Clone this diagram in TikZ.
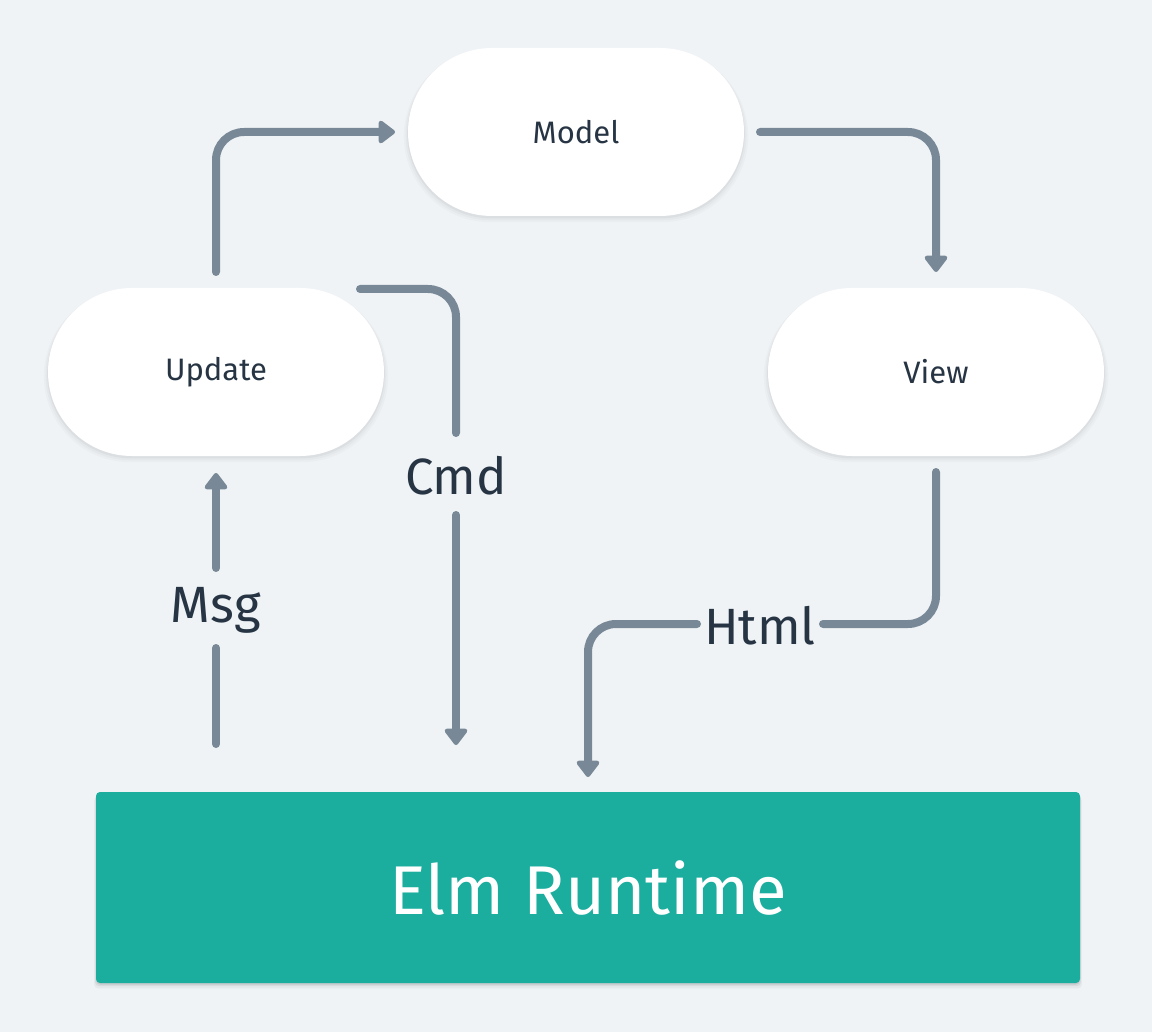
\documentclass[tikz,border=0pt]{standalone}
\usepackage{fontspec}
\setmainfont{Fira Sans}
\usetikzlibrary{arrows.meta,shadows,shapes.misc}
\definecolor{bg}{HTML}{EFF3F6}
\definecolor{arr}{HTML}{788896}
\definecolor{txt}{HTML}{263443}
\definecolor{teal}{HTML}{1BAE9F}
\tikzset{
  soft/.style={
    drop shadow={shadow xshift=0pt, shadow yshift=-4pt, shadow scale=1.025, opacity=0.018, fill=black},
    drop shadow={shadow xshift=0pt, shadow yshift=-3pt, shadow scale=1.015, opacity=0.025, fill=black},
    drop shadow={shadow xshift=0pt, shadow yshift=-2pt, shadow scale=1.005, opacity=0.035, fill=black}},
  softrt/.style={
    drop shadow={shadow xshift=0pt, shadow yshift=-5pt, shadow scale=1.004, opacity=0.04, fill=black},
    drop shadow={shadow xshift=0pt, shadow yshift=-3pt, shadow scale=1.002, opacity=0.06, fill=black},
    drop shadow={shadow xshift=0pt, shadow yshift=-1.5pt, shadow scale=1.0, opacity=0.08, fill=black}},
  pill/.style={rounded rectangle, fill=white, minimum width=336pt, minimum height=168pt, inner sep=0pt,
    text=txt, font=\fontsize{31}{33}\selectfont, soft},
  conn/.style={draw=arr, line width=8pt, line cap=round, rounded corners=28pt},
  tip/.style={-{Triangle[length=18pt,width=26pt,round]}},
  lbl/.style={text=txt, font=\fontsize{51}{53}\selectfont, inner sep=0pt},
}
\begin{document}
\begin{tikzpicture}[x=1pt,y=-1pt]
\fill[bg] (0,0) rectangle (1152,1032);
\useasboundingbox (0,0) rectangle (1152,1032);

\node[pill] (model) at (576,132) {Model};
\node[pill] (update) at (216,372) {Update};
\node[pill] (view) at (936,372) {View};

\node[fill=teal, rounded corners=4pt, minimum width=984pt, minimum height=191pt, inner sep=0pt,
  text=white, font=\fontsize{69}{71}\selectfont, softrt] (rt) at (588,887.5) {Elm Runtime};

\node[lbl] (cmd) at (456,476) {Cmd};
\node[lbl] (msg) at (216,610) {Msg};
\node[lbl] (html) at (760,626) {Html};

\coordinate (a1s) at (216,272);
\coordinate (a1e) at (386,132);
\draw[conn] (a1s) -- (a1s |- a1e) -- (a1e);
\draw[arr, line width=8pt, tip] ([xshift=-2pt]a1e) -- (395,132);

\coordinate (a2s) at (760,132);
\coordinate (a2e) at (936,262);
\draw[conn] (a2s) -- (a2s -| a2e) -- (a2e);
\draw[arr, line width=8pt, tip] ([yshift=-2pt]a2e) -- (936,272);

\coordinate (a3s) at (360,289);
\coordinate (a3m) at (456,433);
\draw[conn] (a3s) -- (a3s -| a3m) -- (a3m);
\coordinate (a3b) at (456,515);
\coordinate (a3e) at (456,736);
\draw[conn] (a3b) -- (a3e);
\draw[arr, line width=8pt, tip] ([yshift=-2pt]a3e) -- (456,745);

\coordinate (a4s) at (216,744);
\coordinate (a4m) at (216,648);
\draw[conn] (a4s) -- (a4m);
\coordinate (a4b) at (216,568);
\coordinate (a4e) at (216,482);
\draw[conn] (a4b) -- (a4e);
\draw[arr, line width=8pt, tip] ([yshift=2pt]a4e) -- (216,473);

\coordinate (a5s) at (936,472);
\coordinate (a5m) at (823,624);
\draw[conn] (a5s) -- (a5s |- a5m) -- (a5m);
\coordinate (a5b) at (697,624);
\coordinate (a5e) at (588,768);
\draw[conn] (a5b) -- (a5b -| a5e) -- (a5e);
\draw[arr, line width=8pt, tip] ([yshift=-2pt]a5e) -- (588,777);
\end{tikzpicture}
\end{document}
